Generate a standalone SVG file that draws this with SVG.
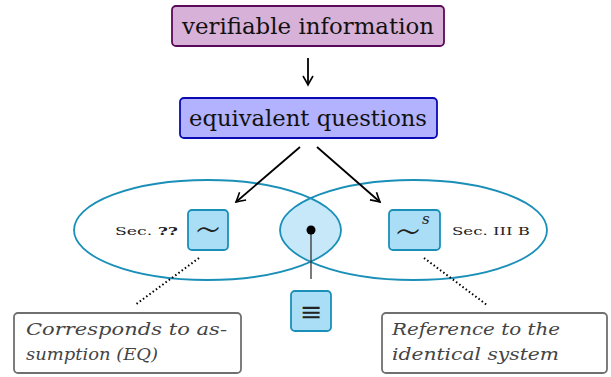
<svg xmlns="http://www.w3.org/2000/svg" width="611" height="377" viewBox="0 0 611 377">
<defs>
<style>
text{font-family:"DejaVu Serif",serif}
.main{font-size:23px;fill:#111}
.sec{font-size:11px;fill:#222}
.sym{font-family:"DejaVu Sans",sans-serif;font-weight:200;font-size:44px;fill:#222}
.note{font-style:italic;font-size:17px;fill:#444}
.ell{fill:none;stroke:#1a8fb8;stroke-width:1.8}
.sbox{fill:#a9def6;stroke:#1a8fb8;stroke-width:1.8}
.nbox{fill:#fff;stroke:#707070;stroke-width:1.8}
.arr{stroke:#000;stroke-width:1.8;fill:none}
.dot{stroke:#000;stroke-width:2;stroke-dasharray:1.5 2.5;fill:none}
</style>
<marker id="ah" viewBox="0 0 12 12" refX="10" refY="6" markerWidth="12" markerHeight="12" markerUnits="userSpaceOnUse" orient="auto">
<path d="M1,1 Q6,4 10,6 Q6,8 1,11" fill="none" stroke="#000" stroke-width="1.6"/>
</marker>
<clipPath id="cl"><ellipse cx="207.5" cy="230" rx="133.5" ry="50"/></clipPath>
</defs>
<g id="lens">
<ellipse cx="413.5" cy="230" rx="133.5" ry="50" fill="#c6e8f8" clip-path="url(#cl)"/>
</g>
<g id="ellipse-left"><ellipse class="ell" cx="207.5" cy="230" rx="133.5" ry="50"/></g>
<g id="ellipse-right"><ellipse class="ell" cx="413.5" cy="230" rx="133.5" ry="50"/></g>
<g id="verifiable">
<rect x="172" y="6" width="272" height="40" rx="4" fill="#d8b1d8" stroke="#5a0a5a" stroke-width="1.8"/>
<text class="main" x="308" y="34" text-anchor="middle" textLength="252" lengthAdjust="spacingAndGlyphs">verifiable information</text>
</g>
<g id="equivalent">
<rect x="180" y="98" width="257" height="40" rx="4" fill="#b2b2ff" stroke="#0a0ab4" stroke-width="1.8"/>
<text class="main" x="308" y="126" text-anchor="middle" textLength="238" lengthAdjust="spacingAndGlyphs">equivalent questions</text>
</g>
<g id="sim">
<text class="sec" x="115" y="235" textLength="63" lengthAdjust="spacingAndGlyphs">Sec. <tspan font-weight="bold">??</tspan></text>
<rect class="sbox" x="188" y="210" width="40" height="40" rx="4"/>
<text class="sym" x="208" y="245" text-anchor="middle">∼</text>
</g>
<g id="sims">
<rect class="sbox" x="389" y="210" width="51" height="40" rx="4"/>
<text class="sym" x="408" y="247" text-anchor="middle">∼</text>
<text x="422" y="224" font-style="italic" font-size="15" fill="#222">s</text>
<text class="sec" x="452" y="235" textLength="78" lengthAdjust="spacingAndGlyphs">Sec. III B</text>
</g>
<g id="equiv">
<rect class="sbox" x="291" y="291" width="40" height="40" rx="4"/>
<text x="311" y="321" text-anchor="middle" font-size="27" fill="#222">≡</text>
</g>
<g id="note-left">
<rect class="nbox" x="14" y="313" width="227" height="60" rx="4"/>
<text class="note" x="26" y="335" textLength="201" lengthAdjust="spacingAndGlyphs">Corresponds to as-</text>
<text class="note" x="26" y="360" textLength="132" lengthAdjust="spacingAndGlyphs">sumption (EQ)</text>
</g>
<g id="note-right">
<rect class="nbox" x="382" y="313" width="225" height="60" rx="4"/>
<text class="note" x="392" y="335" textLength="168" lengthAdjust="spacingAndGlyphs">Reference to the</text>
<text class="note" x="392" y="360" textLength="167" lengthAdjust="spacingAndGlyphs">identical system</text>
</g>
<g id="connectors">
<line class="arr" x1="308" y1="58" x2="308" y2="85" marker-end="url(#ah)"/>
<line class="arr" x1="300" y1="147" x2="236" y2="202" marker-end="url(#ah)"/>
<line class="arr" x1="317" y1="147" x2="380" y2="202" marker-end="url(#ah)"/>
<line x1="311" y1="230" x2="311" y2="279" stroke="#333" stroke-width="1.3"/>
<circle cx="311" cy="230" r="4.5" fill="#000"/>
<line class="dot" x1="199" y1="258" x2="135" y2="305"/>
<line class="dot" x1="424" y1="258" x2="487" y2="305"/>
</g>
</svg>
